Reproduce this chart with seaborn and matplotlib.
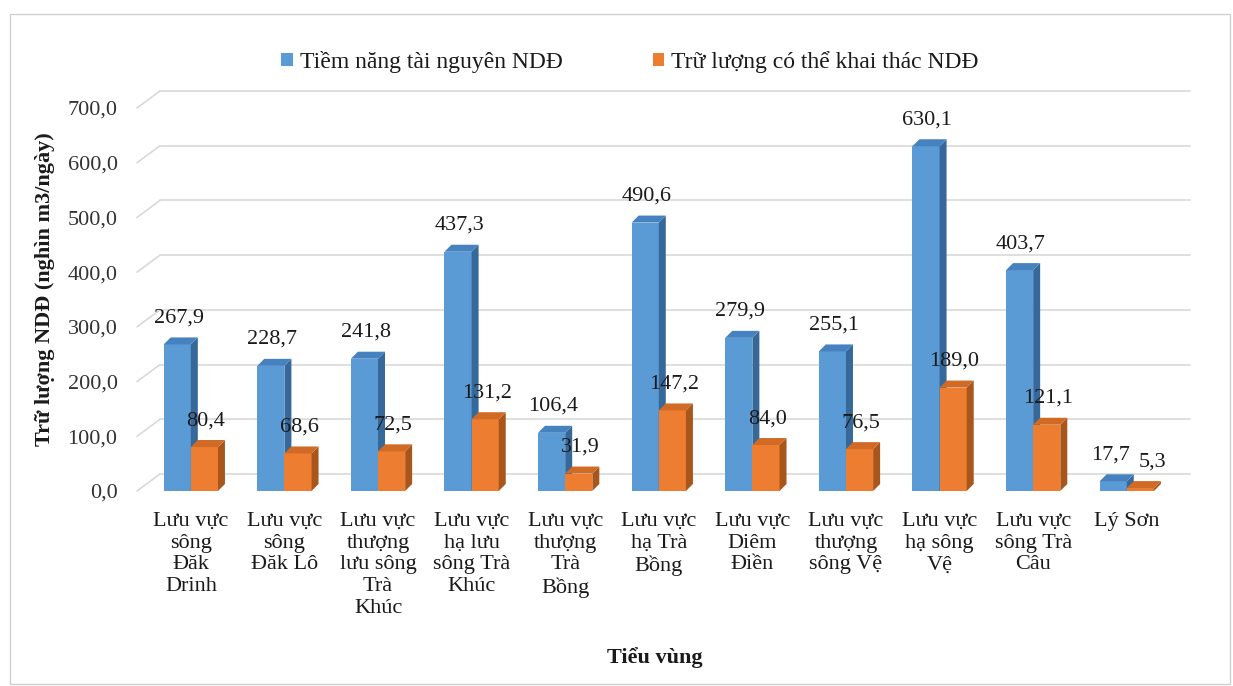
import numpy as np
import pandas as pd
import seaborn as sns
import matplotlib.pyplot as plt
from matplotlib.patches import Polygon, Rectangle
import matplotlib.transforms as mtransforms

categories = ["Lưu vực\nsông\nĐăk\nDrinh", "Lưu vực\nsông\nĐăk Lô",
              "Lưu vực\nthượng\nlưu sông\nTrà\nKhúc", "Lưu vực\nhạ lưu\nsông Trà\nKhúc",
              "Lưu vực\nthượng\nTrà\nBồng", "Lưu vực\nhạ Trà\nBồng", "Lưu vực\nDiêm\nĐiền",
              "Lưu vực\nthượng\nsông Vệ", "Lưu vực\nhạ sông\nVệ", "Lưu vực\nsông Trà\nCâu",
              "Lý Sơn"]
series_names = ["Tiềm năng tài nguyên NDĐ", "Trữ lượng có thể khai thác NDĐ"]
tiem_nang = [267.9, 228.7, 241.8, 437.3, 106.4, 490.6, 279.9, 255.1, 630.1, 403.7, 17.7]
tru_luong = [80.4, 68.6, 72.5, 131.2, 31.9, 147.2, 84.0, 76.5, 189.0, 121.1, 5.3]
yticks = [0, 100, 200, 300, 400, 500, 600, 700]

front_colors = ["#5B9BD5", "#ED7D31"]
side_colors = ["#36699A", "#A9561C"]
top_colors = ["#4682BF", "#D06A24"]

df = pd.DataFrame({
    "cat": categories * 2,
    "series": [series_names[0]] * len(categories) + [series_names[1]] * len(categories),
    "value": tiem_nang + tru_luong,
})

sns.set_theme(style="white")
plt.rcParams['font.family'] = ['Liberation Serif', 'DejaVu Serif']

W, H = 1233, 686
FS = 16
fig = plt.figure(figsize=(W / 100, H / 100), dpi=100)
fig.patch.set_facecolor("white")
fig.patches.append(Rectangle((10 / W, 2 / H), 1 - 13 / W, 1 - 16 / H, transform=fig.transFigure,
                             fill=False, edgecolor="#d0d0d0", linewidth=1.0))

ax_l, ax_r, ax_b, ax_t = 137 / W, 1167 / W, 1 - 491 / H, 1 - 108 / H
ax = fig.add_axes([ax_l, ax_b, ax_r - ax_l, ax_t - ax_b])

sns.barplot(data=df, x="cat", y="value", hue="series", palette=front_colors,
            width=0.58, ax=ax, legend=False, saturation=1, linewidth=0, zorder=2)

xlim = (-0.575, 10.43)
ax.set_xlim(*xlim)
ax.set_ylim(0, 700)
for s in ax.spines.values():
    s.set_visible(False)

ax_w_px = (ax_r - ax_l) * W
ax_h_px = (ax_t - ax_b) * H
px_x = ax_w_px / (xlim[1] - xlim[0])
px_y = ax_h_px / 700.0

# back-wall gridlines with floor diagonals
gdx, gdy = 23, 17
off = mtransforms.ScaledTranslation(gdx / 100, gdy / 100, fig.dpi_scale_trans)
blend = mtransforms.blended_transform_factory(ax.transAxes, ax.transData)
for v in yticks:
    ax.plot([0, 1], [v, v], transform=blend + off, color="#d9d9d9", lw=1.2, zorder=0.5, clip_on=False)
    ax.plot([0, gdx / ax_w_px], [v, v + gdy / px_y], transform=blend, color="#d9d9d9", lw=1.2,
            zorder=0.5, clip_on=False)
ax.grid(False)

# 3D sides for bars
bdx, bdy = 7 / px_x, 7 / px_y
n = len(categories)
for i, p in enumerate(ax.patches[:2 * n]):
    s = i // n
    k = i % n
    x0, w, h = p.get_x(), p.get_width(), p.get_height()
    z = 2 + s
    p.set_zorder(z)
    side = Polygon([(x0 + w, 0), (x0 + w + bdx, bdy), (x0 + w + bdx, h + bdy), (x0 + w, h)],
                   closed=True, facecolor=side_colors[s], edgecolor="none", zorder=z + 0.1)
    top = Polygon([(x0, h), (x0 + bdx, h + bdy), (x0 + w + bdx, h + bdy), (x0 + w, h)],
                  closed=True, facecolor=top_colors[s], edgecolor="none", zorder=z + 0.1)
    ax.add_patch(side)
    ax.add_patch(top)
    label = f"{h:.1f}".replace(".", ",")
    xo = 1
    if abs(tiem_nang[k] - tru_luong[k]) < 40:
        xo = -2 if s == 0 else 9
    ax.annotate(label, (x0 + w / 2, h), xytext=(xo, 19), textcoords="offset points",
                ha="center", va="center", fontsize=FS, color="#1a1a1a", zorder=5)

ax.set_yticks(yticks)
ax.set_yticklabels([f"{v:.1f}".replace(".", ",") for v in yticks], fontsize=FS, color="#333333")
ax.set_xticks(range(n))
ax.set_xticklabels(categories, fontsize=FS, color="#1a1a1a", linespacing=1.2, va="top")
ax.tick_params(axis="y", length=0, pad=14)
ax.tick_params(axis="x", length=0, pad=15)
ax.set_xlabel("")
ax.set_ylabel("")

fig.text(45 / W, 1 - 289 / H, "Trữ lượng NDĐ (nghìn m3/ngày)", rotation=90, ha="center", va="center",
         fontsize=FS, fontweight="bold", color="#1a1a1a")
fig.text(655 / W, 1 - 658 / H, "Tiểu vùng", ha="center", va="center",
         fontsize=FS, fontweight="bold", color="#1a1a1a")

handles = [Rectangle((0, 0), 1, 1, facecolor=c, edgecolor="none") for c in front_colors]
fig.legend(handles, series_names, loc="center", bbox_to_anchor=(630 / W, 1 - 62 / H), ncol=2,
           frameon=False, fontsize=17, handlelength=0.5, handleheight=0.5, handletextpad=0.3,
           columnspacing=3.8, labelcolor="#1a1a1a")

fig.savefig("out.png", dpi=100)
